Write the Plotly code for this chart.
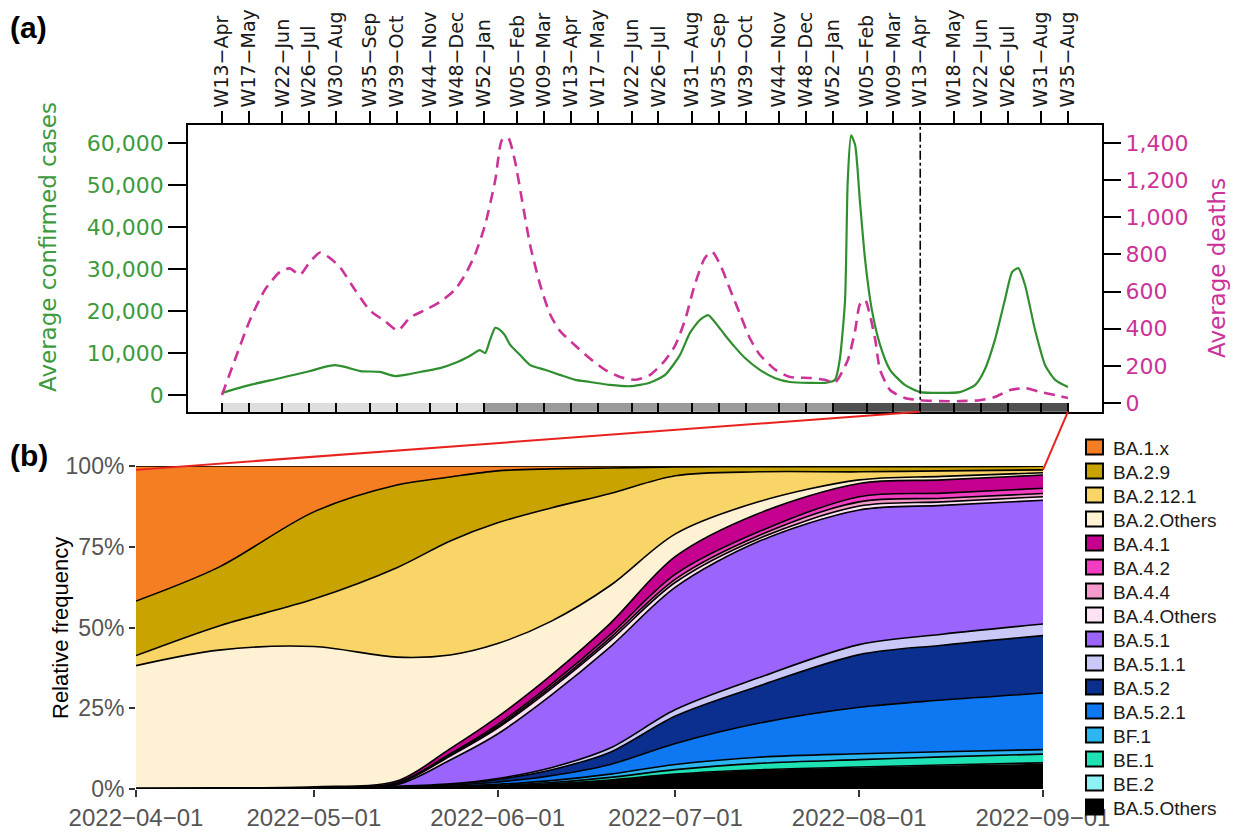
import plotly.graph_objects as go

FIG_W, FIG_H = 1235, 834

# ---------------- panel (a): weekly averages (x = weeks elapsed since 2020-W13) ----------------
case_week = [0, 4.2, 8.6, 13.1, 15.3, 16.8, 18.3, 20.6, 23.5, 25.8,
             28.0, 30.2, 32.5, 34.7, 36.9, 38.4, 39.2, 39.9, 40.7, 41.4,
             42.1, 42.9, 44.4, 45.9, 48.1, 50.3, 52.6, 54.8, 57.8, 60.8,
             63.7, 66.0, 68.2, 69.7, 71.2, 72.4, 73.4, 74.9, 76.4, 77.9,
             80.1, 82.4, 84.6, 87.6, 89.8, 91.3, 92.0, 92.8, 93.2, 93.7,
             94.3, 95.0, 95.8, 96.8, 98.0, 99.5, 101.7, 104.0, 106.9, 109.9,
             112.2, 113.6, 115.1, 116.6, 117.7, 118.6, 119.6, 121.1, 122.6, 124.1,
             126.0]
case_avg = [500, 2400, 4000, 5700, 6700, 7100, 6700, 5700, 5500, 4500,
            5000, 5700, 6400, 7600, 9300, 10700, 10000, 13000, 16000, 15500,
            14300, 12000, 9500, 7100, 6000, 4800, 3600, 3100, 2400, 2100,
            2900, 4800, 9500, 14800, 17900, 19000, 17400, 14300, 11400, 8800,
            6000, 4000, 3100, 2900, 2900, 3600, 8300, 22600, 51000, 61800,
            59500, 46400, 32000, 20200, 12000, 6000, 2400, 700, 500, 700,
            2400, 6000, 13000, 22600, 29300, 30200, 26200, 15500, 7100, 3600,
            1900]

death_week = [0, 1.9, 4.2, 6.4, 8.6, 10.1, 11.6, 13.1, 14.6, 16.1,
              17.6, 19.8, 22.0, 24.3, 26.2, 28.0, 30.2, 32.5, 34.7, 36.2,
              37.7, 39.2, 40.7, 41.7, 42.6, 43.6, 44.7, 45.9, 47.4, 48.9,
              50.3, 52.6, 54.8, 57.0, 59.3, 61.5, 63.7, 66.0, 67.5, 69.0,
              70.4, 71.9, 73.0, 74.2, 75.7, 77.2, 78.6, 80.1, 82.4, 84.6,
              87.6, 89.8, 91.3, 93.2, 94.3, 95.0, 95.8, 96.5, 97.3, 98.0,
              99.5, 101.7, 104.0, 106.9, 109.9, 112.9, 115.1, 117.4, 119.6, 121.8,
              124.1, 126.0]
death_avg = [43, 230, 450, 610, 705, 725, 690, 760, 810, 780,
             730, 610, 500, 440, 390, 460, 500, 545, 610, 690,
             800, 960, 1200, 1416, 1430, 1310, 1090, 850, 635, 475,
             390, 310, 240, 180, 140, 125, 150, 230, 310, 450,
             635, 780, 815, 745, 610, 475, 350, 260, 180, 140,
             135, 125, 110, 230, 390, 530, 555, 475, 340, 180,
             70, 27, 15, 10, 10, 15, 32, 70, 80, 60,
             43, 27]

week_tick_pos = [0, 4, 9, 13, 17, 22, 26, 31, 35, 39, 44, 48, 52, 56, 61,
                 65, 70, 74, 78, 83, 87, 91, 96, 100, 104, 109, 113, 117, 122, 126]
week_tick_text = ["W13−Apr", "W17−May", "W22−Jun", "W26−Jul", "W30−Aug", "W35−Sep",
                  "W39−Oct", "W44−Nov", "W48−Dec", "W52−Jan", "W05−Feb", "W09−Mar",
                  "W13−Apr", "W17−May", "W22−Jun", "W26−Jul", "W31−Aug", "W35−Sep",
                  "W39−Oct", "W44−Nov", "W48−Dec", "W52−Jan", "W05−Feb", "W09−Mar",
                  "W13−Apr", "W18−May", "W22−Jun", "W26−Jul", "W31−Aug", "W35−Aug"]

case_ticks = [0, 10000, 20000, 30000, 40000, 50000, 60000]
death_ticks = [0, 200, 400, 600, 800, 1000, 1200, 1400]

# calendar-year strip under panel (a)
year_block_start = [0, 39, 91]
year_block_end = [39, 91, 126]
year_block_color = ["#dedede", "#9a9a9a", "#505050"]

# weeks covered by the sequencing window in panel (b)
window_weeks = [104, 126]

# ---------------- panel (b): lineage relative frequency ----------------
freq_dates = ["2022-04-01", "2022-04-15", "2022-05-01", "2022-05-15", "2022-05-24",
              "2022-06-01", "2022-06-10", "2022-06-20", "2022-07-01", "2022-07-15",
              "2022-08-01", "2022-08-15", "2022-09-01"]

ba5_others = [0.3, 0.3, 0.3, 0.5, 0.6, 0.9, 1.5, 2.6, 4.3, 5.6, 6.4, 7.0, 7.6]
be_2 =       [0, 0, 0, 0, 0, 0.05, 0.1, 0.2, 0.3, 0.35, 0.4, 0.45, 0.5]
be_1 =       [0, 0, 0, 0.05, 0.1, 0.2, 0.4, 0.8, 1.4, 2.0, 2.3, 2.5, 2.7]
bf_1 =       [0, 0, 0, 0.05, 0.15, 0.3, 0.6, 1.0, 1.6, 1.9, 1.8, 1.6, 1.4]
ba5_2_1 =    [0, 0, 0, 0.1, 0.3, 0.7, 1.5, 3.0, 6.5, 10.5, 14.4, 16.0, 17.5]
ba5_2 =      [0, 0, 0, 0.1, 0.3, 0.8, 1.8, 3.8, 8.5, 11.5, 16.3, 17.0, 17.8]
ba5_1_1 =    [0, 0, 0, 0.05, 0.15, 0.3, 0.7, 1.3, 2.0, 2.6, 3.1, 3.4, 3.6]
ba5_1 =      [0, 0, 0.2, 0.5, 7.4, 13.8, 22.4, 31.3, 37.9, 42.2, 41.7, 39.9, 38.3]
ba4_others = [0, 0, 0.05, 0.3, 1.2, 1.8, 2.0, 2.0, 1.5, 0.9, 1.2, 1.1, 1.1]
ba4_4 =      [0, 0, 0, 0.1, 0.3, 0.5, 0.6, 0.8, 1.0, 0.9, 1.3, 1.1, 1.0]
ba4_2 =      [0, 0, 0.05, 0.2, 0.4, 0.6, 0.8, 1.0, 1.5, 1.2, 1.6, 1.6, 1.6]
ba4_1 =      [0, 0.05, 0.1, 0.5, 1.6, 2.4, 2.8, 3.5, 5.5, 5.7, 4.1, 4.1, 4.1]
ba2_others = [37.9, 42.65, 43.4, 38.4, 29.0, 22.7, 16.7, 11.7, 7.0, 3.6, 1.1, 1.1, 0.7]
ba2_12_1 =   [3.1, 7.5, 14.7, 27.7, 35.3, 37.4, 35.1, 28.5, 18.0, 9.3, 2.5, 1.7, 0.9]
ba2_9 =      [16.9, 18.2, 27.0, 25.6, 19.8, 16.1, 12.1, 7.9, 2.7, 1.6, 1.6, 1.3, 1.1]
ba1_x =      [41.8, 31.3, 14.2, 5.9, 3.4, 1.5, 0.9, 0.6, 0.3, 0.2, 0.2, 0.2, 0.1]

total_genomes = 16001

# stacking order, bottom first
lineages = [
    ("BA.5.Others", ba5_others, "#000000"),
    ("BE.2", be_2, "#8ef2f2"),
    ("BE.1", be_1, "#1ee2b4"),
    ("BF.1", bf_1, "#2bb6f2"),
    ("BA.5.2.1", ba5_2_1, "#0d78f2"),
    ("BA.5.2", ba5_2, "#0a2f8f"),
    ("BA.5.1.1", ba5_1_1, "#c9c8f6"),
    ("BA.5.1", ba5_1, "#9a64fd"),
    ("BA.4.Others", ba4_others, "#fde2f3"),
    ("BA.4.4", ba4_4, "#f59bcb"),
    ("BA.4.2", ba4_2, "#f23cc2"),
    ("BA.4.1", ba4_1, "#c6008e"),
    ("BA.2.Others", ba2_others, "#fff2d4"),
    ("BA.2.12.1", ba2_12_1, "#f9d466"),
    ("BA.2.9", ba2_9, "#c9a300"),
    ("BA.1.x", ba1_x, "#f57d22"),
]

date_ticks = ["2022-04-01", "2022-05-01", "2022-06-01", "2022-07-01", "2022-08-01", "2022-09-01"]
date_tick_text = [d.replace("-", "−") for d in date_ticks]
pct_ticks = [0, 25, 50, 75, 100]

# ---------------- geometry ----------------
def px_x(p):
    return p / FIG_W

def px_y(p):
    return 1 - p / FIG_H

top_xdom = [px_x(188), px_x(1102)]
top_ydom = [px_y(411.7), px_y(125)]
week_range = [-5.06, 131.07]
case_range = [-3976, 64286]
death_range = [-46.8, 1497]

bot_xdom = [px_x(136), px_x(1043)]
bot_ydom = [px_y(789), px_y(466)]
date_range = ["2022-04-01", "2022-09-01"]

# key block at the right of panel (b)
key_left, key_top, key_step = 1086, 447, 24

GREEN_LINE = "#2f8f2f"
GREEN_TEXT = "#3d9a3d"
MAGENTA = "#cc3399"
SANS_WIDE = "DejaVu Sans"
SANS = "Liberation Sans, Arial"

fig = go.Figure()

fig.add_trace(go.Scatter(
    x=case_week, y=case_avg, mode="lines", xaxis="x", yaxis="y",
    line=dict(color=GREEN_LINE, width=2.2, shape="spline", smoothing=0.6),
    showlegend=False, name="Average confirmed cases"))
fig.add_trace(go.Scatter(
    x=death_week, y=death_avg, mode="lines", xaxis="x", yaxis="y2",
    line=dict(color=MAGENTA, width=2.6, dash="11px,7px", shape="spline", smoothing=0.6),
    showlegend=False, name="Average deaths"))
# empty trace so the inner tick axis of the strip is drawn
fig.add_trace(go.Scatter(x=[None], y=[None], xaxis="x2", yaxis="y",
                         showlegend=False, hoverinfo="skip"))

for i, (name, vals, col) in enumerate(lineages):
    fig.add_trace(go.Scatter(
        x=freq_dates, y=vals, name=name, mode="lines",
        stackgroup="lineage", groupnorm="percent" if i == 0 else None,
        line=dict(color="black", width=1.6, shape="spline", smoothing=0.9),
        fillcolor=col, xaxis="x3", yaxis="y3", showlegend=False,
        hovertemplate=name + ": %{y:.1f}%<extra></extra>"))

shapes = []
for s, e, c in zip(year_block_start, year_block_end, year_block_color):
    shapes.append(dict(type="rect", xref="x", yref="y domain", x0=s, x1=e, y0=0, y1=0.03,
                       fillcolor=c, line=dict(width=0), layer="below"))
shapes.append(dict(type="line", xref="x", yref="y domain", x0=window_weeks[0], x1=window_weeks[0],
                   y0=0, y1=1, line=dict(color="black", width=1.6, dash="dashdot")))


def week_to_paper(w):
    return top_xdom[0] + (w - week_range[0]) / (week_range[1] - week_range[0]) * (top_xdom[1] - top_xdom[0])


def pct_to_paper(p):
    return bot_ydom[0] + p / 100 * (bot_ydom[1] - bot_ydom[0])


for w, bx in zip(window_weeks, bot_xdom):
    shapes.append(dict(type="line", xref="paper", yref="paper",
                       x0=week_to_paper(w), y0=top_ydom[0], x1=bx, y1=pct_to_paper(98.8),
                       line=dict(color="#e8221e", width=2)))

annotations = [
    dict(text="<b>(a)</b>", x=px_x(8), y=px_y(9), xref="paper", yref="paper",
         xanchor="left", yanchor="top", showarrow=False, font=dict(family=SANS, size=30, color="black")),
    dict(text="<b>(b)</b>", x=px_x(8), y=px_y(437), xref="paper", yref="paper",
         xanchor="left", yanchor="top", showarrow=False, font=dict(family=SANS, size=30, color="black")),
    dict(text="Average confirmed cases", x=px_x(48), y=px_y(247), xref="paper", yref="paper",
         xanchor="center", yanchor="middle",
         textangle=-90, showarrow=False, font=dict(family=SANS_WIDE, size=23, color=GREEN_TEXT)),
    dict(text="Average deaths", x=px_x(1217), y=px_y(268), xref="paper", yref="paper",
         xanchor="center", yanchor="middle",
         textangle=-90, showarrow=False, font=dict(family=SANS_WIDE, size=23, color=MAGENTA)),
    dict(text="Relative frequency", x=px_x(60), y=px_y(628), xref="paper", yref="paper",
         xanchor="center", yanchor="middle",
         textangle=-90, showarrow=False, font=dict(family=SANS, size=22, color="black")),
    dict(text=f"Total genomes = {total_genomes:,}", x="2022-07-08", y=104.3, xref="x3", yref="y3",
         xanchor="center", yanchor="middle",
         showarrow=False, font=dict(family=SANS, size=25, color="#1a1a1a")),
]

# key: one swatch + label per lineage, top entry = last stacked layer
for i, (name, vals, col) in enumerate(reversed(lineages)):
    cy = key_top + i * key_step
    shapes.append(dict(type="rect", xref="paper", yref="paper",
                       x0=px_x(key_left), x1=px_x(key_left + 17),
                       y0=px_y(cy + 7.5), y1=px_y(cy - 7.5),
                       fillcolor=col, line=dict(color="black", width=2)))
    annotations.append(dict(text=name, x=px_x(key_left + 25), y=px_y(cy + 1), xref="paper", yref="paper",
                            xanchor="left", yanchor="middle", showarrow=False,
                            font=dict(family=SANS, size=19, color="#1a1a1a")))

fig.update_layout(
    width=FIG_W, height=FIG_H,
    margin=dict(l=0, r=0, t=0, b=0, autoexpand=False),
    paper_bgcolor="white", plot_bgcolor="white",
    showlegend=False,
    xaxis=dict(domain=top_xdom, anchor="y", side="top", range=week_range, automargin=False,
               tickmode="array", tickvals=week_tick_pos, ticktext=week_tick_text, tickangle=-90,
               ticks="outside", ticklen=12, tickwidth=1.5, tickcolor="black",
               showline=True, linecolor="black", linewidth=1.6, mirror=True,
               showgrid=False, zeroline=False,
               tickfont=dict(family=SANS_WIDE, size=19, color="#1a1a1a")),
    xaxis2=dict(overlaying="x", anchor="y", side="bottom", range=week_range, automargin=False,
                tickmode="array", tickvals=week_tick_pos, showticklabels=False,
                ticks="inside", ticklen=9, tickwidth=1.5, tickcolor="black",
                showline=False, showgrid=False, zeroline=False),
    yaxis=dict(domain=top_ydom, anchor="x", range=case_range, automargin=False,
               tickmode="array", tickvals=case_ticks, tickformat=",d",
               ticks="outside", ticklen=18, tickwidth=1.5, tickcolor="black",
               showline=True, linecolor="black", linewidth=1.6, mirror=True,
               showgrid=False, zeroline=False,
               tickfont=dict(family=SANS_WIDE, size=22, color=GREEN_TEXT)),
    yaxis2=dict(overlaying="y", anchor="x", side="right", range=death_range, automargin=False,
                tickmode="array", tickvals=death_ticks, tickformat=",d",
                ticks="outside", ticklen=18, tickwidth=1.5, tickcolor="black",
                showline=False, showgrid=False, zeroline=False,
                tickfont=dict(family=SANS_WIDE, size=22, color=MAGENTA)),
    xaxis3=dict(domain=bot_xdom, anchor="y3", type="date", range=date_range, automargin=False,
                tickmode="array", tickvals=date_ticks, ticktext=date_tick_text,
                ticks="outside", ticklen=7, tickwidth=1.5, tickcolor="#333333",
                showline=False, showgrid=False, zeroline=False,
                tickfont=dict(family=SANS, size=24, color="#555555")),
    yaxis3=dict(domain=bot_ydom, anchor="x3", range=[0, 100], automargin=False,
                tickmode="array", tickvals=pct_ticks, ticktext=[f"{p}%" for p in pct_ticks],
                ticks="outside", ticklen=6, tickwidth=1.5, tickcolor="#333333",
                showline=False, showgrid=False, zeroline=False,
                tickfont=dict(family=SANS, size=23, color="#555555")),
    shapes=shapes,
    annotations=annotations,
)

fig.write_html("out.html")
